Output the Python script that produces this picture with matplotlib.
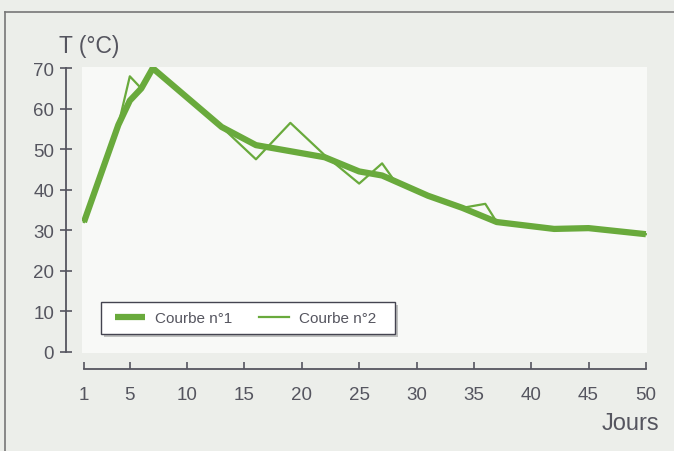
import numpy as np
import matplotlib
matplotlib.use("Agg")
import matplotlib.pyplot as plt
from matplotlib.lines import Line2D
from matplotlib.patches import Rectangle

# Courbe n°1 (lissée)
jours1 = [1, 4, 5, 6, 7, 13, 16, 22, 25, 27, 31, 34, 37, 42, 45, 50]
temp1 = [32, 56, 62, 65, 70, 55.5, 51, 48, 44.5, 43.5, 38.5, 35.5, 32, 30.3, 30.5, 29]

# Courbe n°2 (brute)
jours2 = [1, 4, 5, 6, 7, 13, 16, 19, 22, 25, 27, 28, 31, 34, 36, 37, 42, 45, 50]
temp2 = [32, 56, 68, 65, 70, 55.5, 47.5, 56.5, 48.5, 41.5, 46.5, 42.5, 38.5, 35.5, 36.5, 32, 30.3, 30.5, 29]

xticks = [1, 5, 10, 15, 20, 25, 30, 35, 40, 45, 50]
yticks = [0, 10, 20, 30, 40, 50, 60, 70]

plt.rcParams['font.family'] = ['Liberation Sans', 'DejaVu Sans']

vert = "#69aa3c"
gris = "#55555f"
W, H = 674, 452

fig = plt.figure(figsize=(6.74, 4.52), dpi=100)
fig.patch.set_facecolor("#eceeea")
ax = fig.add_axes([82 / W, 1 - 354 / H, 565 / W, 286 / H])
ax.set_facecolor("#f8f9f7")

ax.plot(jours2, temp2, color=vert, lw=1.6, label="Courbe n°2", zorder=3)
ax.plot(jours1, temp1, color=vert, lw=4.5, solid_joinstyle="round",
        solid_capstyle="butt", label="Courbe n°1", zorder=2)

ax.set_xlim(0.83, 50.1)
ax.set_ylim(-0.35, 70.3)

for s in ["top", "right"]:
    ax.spines[s].set_visible(False)
ax.spines["left"].set_position(("outward", 11.5))
ax.spines["bottom"].set_position(("outward", 11.5))
ax.spines["left"].set_bounds(0, 70)
ax.spines["bottom"].set_bounds(1, 50)
for s in ["left", "bottom"]:
    ax.spines[s].set_color(gris)
    ax.spines[s].set_linewidth(1.3)

ax.set_xticks(xticks)
ax.set_yticks(yticks)
ax.tick_params(axis="x", direction="in", length=5, width=1.2, color=gris,
               labelcolor=gris, labelsize=13.5, pad=12.5)
ax.tick_params(axis="y", direction="inout", length=8, width=1.2, color=gris,
               labelcolor=gris, labelsize=13.5, pad=4.5)

fig.text(59 / W, 1 - 46 / H, "T (°C)", fontsize=16.5, color=gris, va="center")
fig.text(659 / W, 1 - 424 / H, "Jours", fontsize=17, color=gris,
         va="center", ha="right")

# cadre de la légende avec ombre
ombre = Rectangle((104 / W, 1 - 338 / H), 294 / W, 32 / H,
                  transform=fig.transFigure, facecolor="#9a9a9a",
                  edgecolor="none", alpha=0.6, zorder=3)
boite = Rectangle((101 / W, 1 - 335 / H), 294 / W, 32 / H,
                  transform=fig.transFigure, facecolor="white",
                  edgecolor="#444450", lw=1.0, zorder=4)
fig.add_artist(ombre)
fig.add_artist(boite)

h, l = ax.get_legend_handles_labels()
leg = fig.legend(h[::-1], l[::-1], ncol=2, loc="center left",
                 bbox_to_anchor=(115 / W, 1 - 319 / H),
                 bbox_transform=fig.transFigure, frameon=False, fontsize=11,
                 handlelength=1.95, handletextpad=0.7, columnspacing=1.7,
                 borderpad=0, borderaxespad=0)
leg.set_zorder(5)
for t in leg.get_texts():
    t.set_color(gris)

# cadre
fig.add_artist(Line2D([5 / W, 5 / W], [0, 1 - 13 / H], color="#777777",
                      lw=1.2, transform=fig.transFigure))
fig.add_artist(Line2D([5 / W, 1], [1 - 13 / H, 1 - 13 / H],
                      color="#777777", lw=1.2, transform=fig.transFigure))

fig.savefig("out.png", dpi=100, facecolor=fig.get_facecolor())
